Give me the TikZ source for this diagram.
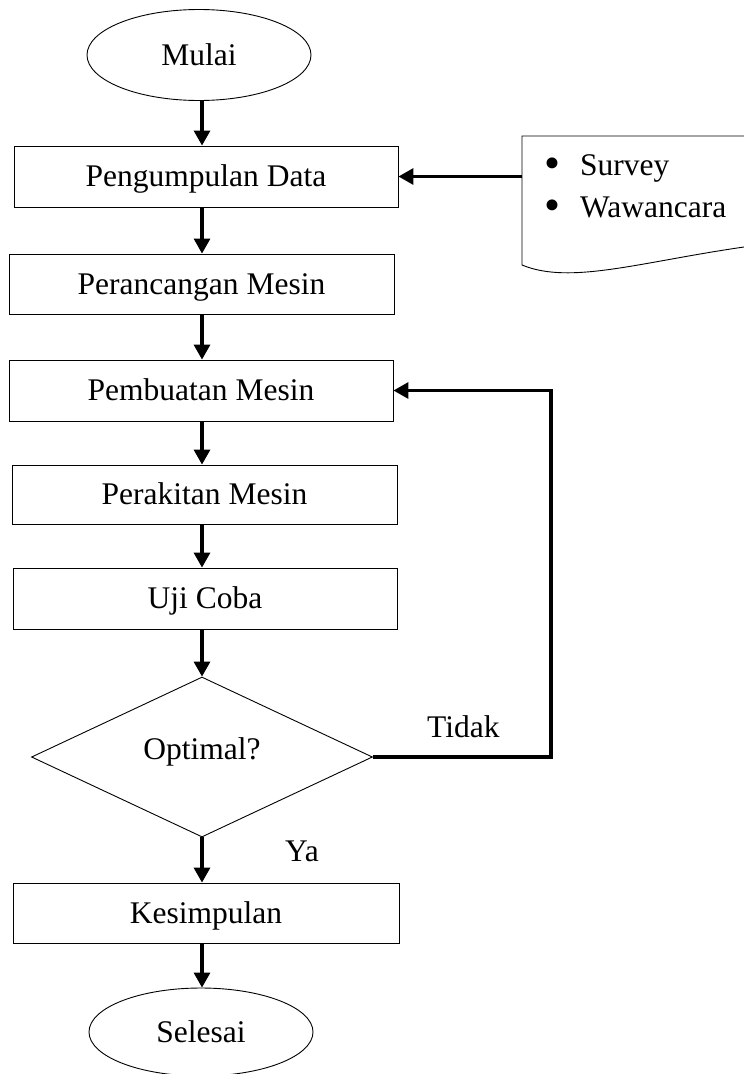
\documentclass[tikz,border=0pt]{standalone}
\usepackage{fontspec}
\setmainfont{Liberation Serif}
\usetikzlibrary{shapes.geometric,arrows.meta}
\begin{document}
\begin{tikzpicture}[x=1pt,y=-1pt,
  every node/.style={font=\fontsize{31.5}{38}\selectfont, inner sep=0pt},
  outline/.style={draw=black, line width=0.9pt},
  stepbox/.style={outline, rectangle, minimum height=61pt, text height=20.8pt, text depth=0pt},
  terminal/.style={outline, ellipse, minimum width=224pt, minimum height=91pt, text height=20.8pt, text depth=0pt},
  decision/.style={outline, diamond, minimum width=341pt, minimum height=160pt, text height=20.8pt, text depth=16pt},
  arr/.style={line width=3.2pt, -{Triangle[length=15pt,width=16pt]}},
  bulletmark/.style={},
]
\useasboundingbox (0,0) rectangle (744,1074);

% vertical spine of the main flow
\coordinate (spine) at (202,0);

% main flow
\node[terminal] (start) at (199,55) {Mulai};
\node[stepbox, minimum width=384pt] (pd) at (206,176.5) {Pengumpulan Data};
\node[stepbox, minimum width=385pt, minimum height=60pt] (pr) at (201.5,284) {Perancangan Mesin};
\node[stepbox, minimum width=384pt] (pb) at (201,390.5) {Pembuatan Mesin};
\node[stepbox, minimum width=385pt, minimum height=59pt] (pk) at (204.5,494.5) {Perakitan Mesin};
\node[stepbox, minimum width=384pt] (uc) at (205,598.5) {Uji Coba};
\node[decision] (dec) at (202,757) {Optimal?};
\node[stepbox, minimum width=386pt, minimum height=60pt] (ks) at (206,913) {Kesimpulan};
\node[terminal, minimum height=88pt] (end) at (201,1032) {Selesai};

% data source document
\node[anchor=north west, minimum width=222pt, minimum height=129pt] (doc) at (522,136) {};
\draw[outline] (doc.north east) -- (doc.north west) -- (522,265)
  .. controls (570,285) and (640,262) .. (744,247);
\newcommand{\bigbullet}{\makebox[36pt][l]{\raisebox{-3.5pt}{\scalebox{1.45}{•}}}}
\node[anchor=base west] (docA) at (544,175) {\bigbullet Survey};
\node[anchor=base west] (docB) at (544,217) {\bigbullet Wawancara};

% connectors
\draw[arr] (start.south -| spine) -- (pd.north -| spine);
\draw[arr] (pd.south -| spine) -- (pr.north -| spine);
\draw[arr] (pr.south -| spine) -- (pb.north -| spine);
\draw[arr] (pb.south -| spine) -- (pk.north -| spine);
\draw[arr] (pk.south -| spine) -- (uc.north -| spine);
\draw[arr] (uc.south -| spine) -- (dec.north);
\draw[arr] (dec.south) -- (ks.north -| dec.south);
\draw[arr] (ks.south -| dec.south) -- (end.north -| dec.south);
\draw[arr] (pd.east -| doc.west) -- (pd.east);

% loop back when not optimal
\coordinate (loop) at (551,390.5);
\draw[arr] (dec.east) -| (loop) -- (pb.east);

% branch labels
\node[anchor=base west] (no) at (427,737) {Tidak};
\node[anchor=base west] (yes) at (285,861) {Ya};
\end{tikzpicture}
\end{document}
